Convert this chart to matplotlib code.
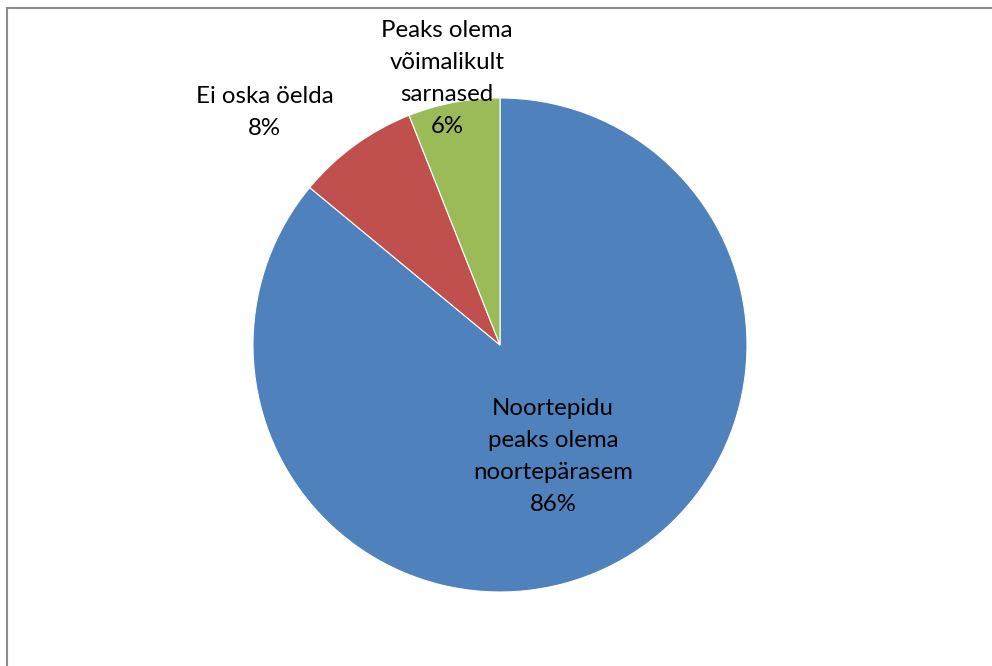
import numpy as np
import matplotlib.pyplot as plt
from matplotlib.patches import Rectangle

plt.rcParams["font.family"] = ["Lato", "DejaVu Sans"]
plt.rcParams['font.size'] = 17.3

labels = ["Noortepidu\npeaks olema\nnoortepärasem", "Ei oska öelda", "Peaks olema\nvõimalikult\nsarnased"]
shares = [86, 8, 6]
colors = ["#4F81BD", "#C0504D", "#9BBB59"]
# label placement: (distance in radii, angle in degrees)
label_dist = [0.50, 1.34, 1.10]
label_angle = [-64.5, 135.3, 101.3]

W, H = 992, 666
fig = plt.figure(figsize=(W / 100, H / 100), dpi=100)
fig.patches.append(Rectangle((6.5 / W, -0.1), 1.2, (H - 8) / H + 0.1, transform=fig.transFigure,
                             fill=False, edgecolor='#8c8c8c', linewidth=1.5))

cx, cy, r = 500, 345, 247
ax = fig.add_axes([(cx - r) / W, (H - cy - r) / H, 2 * r / W, 2 * r / H])
ax.pie(shares, colors=colors, startangle=90, counterclock=False,
       wedgeprops=dict(edgecolor='white', linewidth=0.8))
ax.set_aspect('equal')
ax.set_xlim(-1, 1)
ax.set_ylim(-1, 1)
ax.axis('off')

for lab, val, d, a in zip(labels, shares, label_dist, label_angle):
    t = np.deg2rad(a)
    ax.text(d * np.cos(t), d * np.sin(t), f"{lab}\n{val}%", ha='center', va='center',
            linespacing=1.65, color='black', clip_on=False)

fig.savefig("out.png", dpi=100)
